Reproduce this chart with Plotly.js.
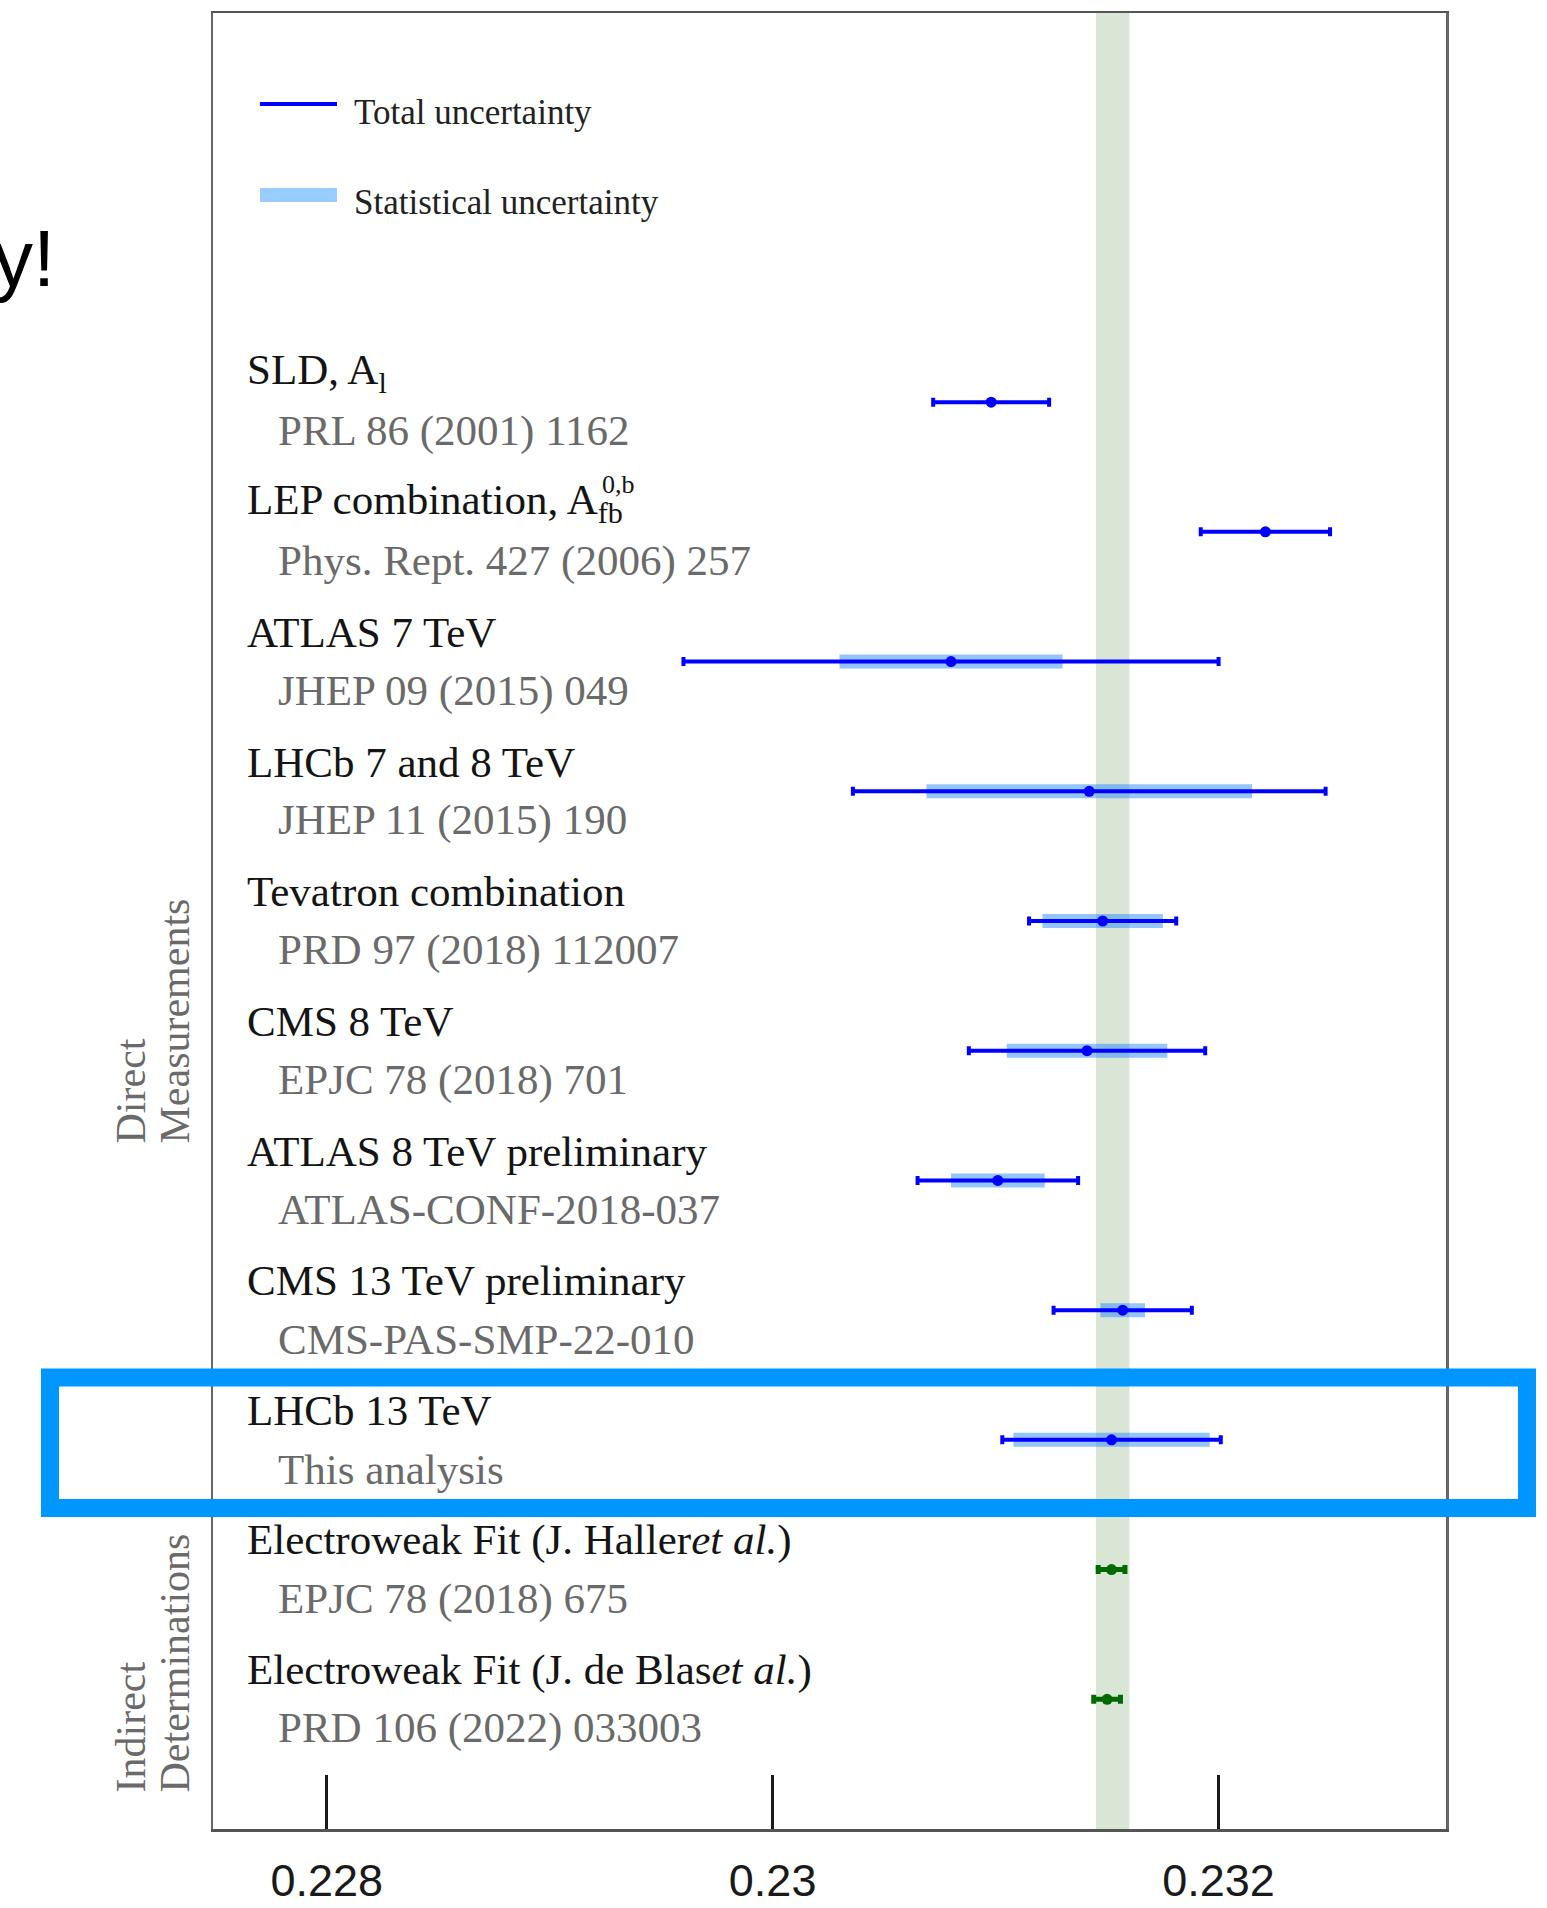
<!DOCTYPE html>
<html>
<head>
<meta charset="utf-8">
<script src="https://cdn.plot.ly/plotly-3.0.1.min.js"></script>
<style>
  html, body { margin: 0; padding: 0; background: #ffffff; }
  #chart { width: 1547px; height: 1908px; }
</style>
</head>
<body>
<div id="chart"></div>
<script>
// sin^2(theta_eff^lept) comparison: direct measurements and indirect determinations

const measLabels = [
  "SLD, A<sub>l</sub>",
  "LEP combination, A<sub>fb</sub>",
  "ATLAS 7 TeV",
  "LHCb 7 and 8 TeV",
  "Tevatron combination",
  "CMS 8 TeV",
  "ATLAS 8 TeV preliminary",
  "CMS 13 TeV preliminary",
  "LHCb 13 TeV",
  "Electroweak Fit (J. Haller<i>et al.</i>)",
  "Electroweak Fit (J. de Blas<i>et al.</i>)"
];
const measRefs = [
  "PRL 86 (2001) 1162",
  "Phys. Rept. 427 (2006) 257",
  "JHEP 09 (2015) 049",
  "JHEP 11 (2015) 190",
  "PRD 97 (2018) 112007",
  "EPJC 78 (2018) 701",
  "ATLAS-CONF-2018-037",
  "CMS-PAS-SMP-22-010",
  "This analysis",
  "EPJC 78 (2018) 675",
  "PRD 106 (2022) 033003"
];

// direct measurements (rows 1-9)
const directVal   = [0.23098, 0.23221, 0.23080, 0.23142, 0.23148, 0.23141, 0.23101, 0.23157, 0.23152];
const directTotal = [0.00026, 0.00029, 0.00120, 0.00106, 0.00033, 0.00053, 0.00036, 0.00031, 0.00049];
const directStat  = [null,    null,    0.00050, 0.00073, 0.00027, 0.00036, 0.00021, 0.00010, 0.00044];

// indirect determinations (rows 10-11)
const indirectVal = [0.23152, 0.23150];
const indirectErr = [0.00006, 0.00006];

// reference band
const bandRange = [0.23145, 0.23160];

const xTickVals = [0.228, 0.230, 0.232];
const xTickText = ["0.228", "0.23", "0.232"];

// ---- layout geometry ----
const W = 1547, H = 1908;
const ML = 213, MR = 101, MT = 13, MB = 79;
const PW = W - ML - MR, PH = H - MT - MB;
const px = p => (p - ML) / PW;        // page x pixel -> paper
const py = p => 1 - (p - MT) / PH;    // page y pixel -> paper

const rowsDirect = directVal.map((_, i) => i + 1);
const rowsIndirect = indirectVal.map((_, i) => directVal.length + i + 1);

const statIdx = directStat.map((s, i) => s === null ? -1 : i).filter(i => i >= 0);

const BLUE = "#0000ff";
const GREEN = "#006a00";

const traces = [
  {
    // statistical uncertainty band
    type: "scatter", mode: "markers", hoverinfo: "skip",
    x: statIdx.map(i => directVal[i]),
    y: statIdx.map(i => rowsDirect[i]),
    marker: { size: 1, color: "rgba(0,0,0,0)" },
    error_x: { type: "data", symmetric: true, array: statIdx.map(i => directStat[i]),
               color: "rgba(40,140,255,0.5)", thickness: 14, width: 0 }
  },
  {
    // total uncertainty + central value
    type: "scatter", mode: "markers",
    x: directVal, y: rowsDirect,
    marker: { size: 11, color: BLUE },
    error_x: { type: "data", symmetric: true, array: directTotal,
               color: BLUE, thickness: 4, width: 4.5 }
  },
  {
    type: "scatter", mode: "markers",
    x: indirectVal, y: rowsIndirect,
    marker: { size: 11, color: GREEN },
    error_x: { type: "data", symmetric: true, array: indirectErr,
               color: GREEN, thickness: 5, width: 4.5 }
  }
];

const serif = "Liberation Serif, Times New Roman, serif";
const sans = "Liberation Sans, Arial, sans-serif";
const nRows = measLabels.length;

const annotations = [];
for (let i = 0; i < nRows; i++) {
  annotations.push({
    xref: "paper", yref: "y", x: px(245), y: i + 1 - 0.225,
    xanchor: "left", yanchor: "middle", showarrow: false,
    text: measLabels[i], font: { family: serif, size: 43, color: "#141414" }
  });
  annotations.push({
    xref: "paper", yref: "y", x: px(276), y: i + 1 + 0.225,
    xanchor: "left", yanchor: "middle", showarrow: false,
    text: measRefs[i], font: { family: serif, size: 43, color: "#6a6a6a" }
  });
}
// superscript over the LEP asymmetry symbol
annotations.push({
  xref: "paper", yref: "y", x: px(600), y: 2 - 0.365,
  xanchor: "left", yanchor: "middle", showarrow: false,
  text: "0,b", font: { family: serif, size: 26, color: "#141414" }
});

// legend
annotations.push({
  xref: "paper", yref: "paper", x: px(352), y: py(112),
  xanchor: "left", yanchor: "middle", showarrow: false,
  text: "Total uncertainty", font: { family: serif, size: 35, color: "#222222" }
});
annotations.push({
  xref: "paper", yref: "paper", x: px(352), y: py(202),
  xanchor: "left", yanchor: "middle", showarrow: false,
  text: "Statistical uncertainty", font: { family: serif, size: 35, color: "#222222" }
});

// group labels on the left
const groupFont = { family: serif, size: 42, color: "#6a6a6a" };
[["Direct", 130, 1146], ["Measurements", 174, 1146],
 ["Indirect", 130, 1795], ["Determinations", 174, 1795]].forEach(([t, xp, yp]) => {
  annotations.push({
    xref: "paper", yref: "paper", x: px(xp), y: py(yp),
    xanchor: "center", yanchor: "bottom", textangle: -90, showarrow: false,
    text: t, font: groupFont
  });
});

// heading fragment at the top left
annotations.push({
  xref: "paper", yref: "paper", x: px(57), y: py(258),
  xanchor: "right", yanchor: "middle", showarrow: false,
  text: "y!", font: { family: sans, size: 80, color: "#000000" }
});

const shapes = [
  {
    type: "rect", xref: "x", yref: "paper", x0: bandRange[0], x1: bandRange[1], y0: 0, y1: 1,
    fillcolor: "rgb(217,230,213)", line: { width: 0 }, layer: "below"
  },
  // legend samples
  {
    type: "line", xref: "paper", yref: "paper", x0: px(260), x1: px(337), y0: py(104), y1: py(104),
    line: { color: BLUE, width: 4 }
  },
  {
    type: "rect", xref: "paper", yref: "paper", x0: px(260), x1: px(337), y0: py(202), y1: py(188),
    fillcolor: "rgb(153,204,255)", line: { width: 0 }
  },
  // highlight frame around this analysis
  {
    type: "rect", xref: "paper", yref: "paper", x0: px(50), x1: px(1527), y0: py(1508), y1: py(1377.5),
    line: { color: "#0096ff", width: 18 }, fillcolor: "rgba(0,0,0,0)"
  }
];

const layout = {
  width: W, height: H, autosize: false,
  margin: { l: ML, r: MR, t: MT, b: MB, pad: 0 },
  paper_bgcolor: "#ffffff", plot_bgcolor: "#ffffff",
  showlegend: false,
  xaxis: {
    range: [0.22749, 0.23302],
    tickvals: xTickVals, ticktext: xTickText,
    ticks: "inside", ticklen: 54, tickwidth: 2.5, tickcolor: "#1a1a1a",
    tickfont: { family: sans, size: 45, color: "#1a1a1a" },
    ticklabelstandoff: 10,
    showline: true, linecolor: "#555555", linewidth: 2.5, mirror: true,
    showgrid: false, zeroline: false, fixedrange: true
  },
  yaxis: {
    range: [12.0, -2.0],
    showticklabels: false, ticks: "",
    showline: true, linecolor: "#666666", linewidth: 2.5, mirror: true,
    showgrid: false, zeroline: false, fixedrange: true
  },
  shapes: shapes,
  annotations: annotations
};

Plotly.newPlot("chart", traces, layout, { displayModeBar: false, staticPlot: true });
</script>
</body>
</html>
